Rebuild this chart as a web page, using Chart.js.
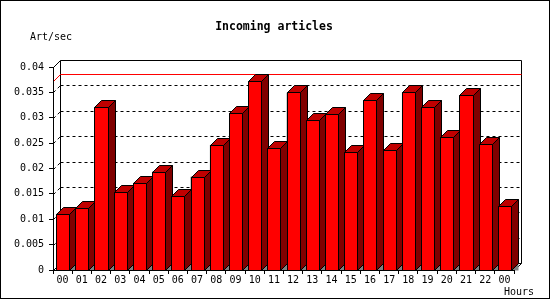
<!DOCTYPE html>
<html>
<head>
<meta charset="utf-8">
<title>Incoming articles</title>
<script src="https://cdn.jsdelivr.net/npm/chart.js@4.4.1/dist/chart.umd.min.js"></script>
<style>
  html, body { margin: 0; padding: 0; background: #fff; }
  canvas { display: block; }
</style>
</head>
<body>
<canvas id="articlesChart" width="550" height="300"></canvas>
<script>
const hours = ['00', '01', '02', '03', '04', '05', '06', '07', '08', '09', '10', '11',
               '12', '13', '14', '15', '16', '17', '18', '19', '20', '21', '22', '00'];
const artPerSec = [0.0111, 0.0123, 0.0321, 0.0153, 0.0172, 0.0194, 0.0145, 0.0184,
                   0.0247, 0.0310, 0.0372, 0.0240, 0.0350, 0.0295, 0.0308, 0.0233,
                   0.0335, 0.0237, 0.0350, 0.0322, 0.0263, 0.0344, 0.0249, 0.0127];
const yTicks = ['0', '0.005', '0.01', '0.015', '0.02', '0.025', '0.03', '0.035', '0.04'];

const DEPTH = 7;
const MONO = '"DejaVu Sans Mono", "Liberation Mono", monospace';

function poly(ctx, pts, fill) {
    ctx.beginPath();
    pts.forEach(([px, py], i) => i ? ctx.lineTo(px, py) : ctx.moveTo(px, py));
    ctx.closePath();
    if (fill) { ctx.fillStyle = fill; ctx.fill(); }
    ctx.stroke();
}

function seg(ctx, x1, y1, x2, y2) {
    ctx.beginPath();
    ctx.moveTo(x1, y1);
    ctx.lineTo(x2, y2);
    ctx.stroke();
}

// back wall, dotted grid and the max line, drawn behind the bars
const frame3d = {
    id: 'frame3d',
    beforeDatasetsDraw(chart) {
        const { ctx, chartArea: a, scales: { y } } = chart;
        const fl = a.left + 0.5, fb = a.bottom + 0.5, ft = Math.round(a.top) + 0.5;
        const bl = fl + DEPTH, br = Math.round(a.right) + 0.5 + DEPTH;
        const bt = ft - DEPTH, bb = fb - DEPTH;
        ctx.save();
        ctx.strokeStyle = '#000';
        ctx.lineWidth = 1;

        // dotted grid on the back wall
        ctx.setLineDash([3, 3]);
        for (let i = 1; i < yTicks.length - 1; i++) {
            const py = Math.round(y.getPixelForValue(i * 0.005)) + 0.5;
            seg(ctx, bl, py - DEPTH, br, py - DEPTH);
            seg(ctx, fl, py, bl, py - DEPTH);
        }
        ctx.setLineDash([]);

        // wall outline
        seg(ctx, fl, ft, bl, bt);
        seg(ctx, bl, bt, br, bt);
        seg(ctx, br, bt, br, bb);
        seg(ctx, bl, bt, bl, bb);
        seg(ctx, bl, bb, br, bb);
        seg(ctx, fl, fb, bl, bb);
        seg(ctx, Math.round(a.right) + 0.5, fb, br, bb);

        // maximum line
        const my = Math.round(y.getPixelForValue(Math.max(...artPerSec))) + 0.5;
        ctx.strokeStyle = '#ff0000';
        seg(ctx, fl, my, bl, my - DEPTH);
        seg(ctx, bl, my - DEPTH, br, my - DEPTH);
        ctx.restore();
    },
    afterDatasetsDraw(chart) {
        const { ctx, chartArea: a } = chart;
        const bars = chart.getDatasetMeta(0).data;
        ctx.save();
        ctx.strokeStyle = '#000';
        ctx.lineWidth = 1;
        bars.forEach(bar => {
            const { x, y, base, width } = bar.getProps(['x', 'y', 'base', 'width'], true);
            const L = Math.round(x - width / 2) + 0.5;
            const R = Math.round(x + width / 2) + 0.5;
            const T = Math.round(y) + 0.5;
            const B = Math.round(base) + 0.5;
            const D = DEPTH;
            poly(ctx, [[L, T], [R, T], [R, B], [L, B]], '#ff0000');
            poly(ctx, [[L, T], [L + D, T - D], [R + D, T - D], [R, T]], '#c00000');
            ctx.beginPath();
            ctx.moveTo(R, B); ctx.lineTo(R + D, B - D); ctx.lineTo(R + D, B); ctx.closePath();
            ctx.fillStyle = '#808080';
            ctx.fill();
            poly(ctx, [[R, T], [R + D, T - D], [R + D, B - D], [R, B]], '#800000');
        });
        seg(ctx, a.left + 0.5, a.top, a.left + 0.5, a.bottom + 1);
        seg(ctx, a.left, a.bottom + 0.5, a.right + 1, a.bottom + 0.5);
        ctx.restore();
    },
    afterDraw(chart) {
        const { ctx } = chart;
        ctx.save();
        ctx.fillStyle = '#000';
        ctx.textBaseline = 'middle';
        ctx.font = 'bold 11.5px ' + MONO;
        ctx.textAlign = 'center';
        ctx.fillText('Incoming articles', 274, 27);
        ctx.font = '10px ' + MONO;
        ctx.textAlign = 'left';
        ctx.fillText('Art/sec', 30, 37);
        ctx.textAlign = 'right';
        ctx.fillText('Hours', 534, 292);
        ctx.strokeStyle = '#000';
        ctx.lineWidth = 1;
        ctx.strokeRect(0.5, 0.5, 549, 298);
        ctx.restore();
    }
};

new Chart(document.getElementById('articlesChart').getContext('2d'), {
    type: 'bar',
    data: {
        labels: hours,
        datasets: [{
            label: 'Art/sec',
            data: artPerSec,
            backgroundColor: '#ff0000',
            borderColor: '#000000',
            borderWidth: 1,
            barPercentage: 0.68,
            categoryPercentage: 1,
        }],
    },
    options: {
        responsive: false,
        animation: false,
        devicePixelRatio: 1,
        layout: {
            padding: { top: 67, right: 36, bottom: 0, left: 0 },
        },
        plugins: {
            legend: { display: false },
            title: { display: false },
            tooltip: { enabled: false },
        },
        scales: {
            x: {
                offset: true,
                afterFit: s => { s.height = 30; },
                grid: { offset: true, drawOnChartArea: false, tickLength: 4, color: '#000' },
                border: { color: '#000' },
                ticks: {
                    autoSkip: false,
                    maxRotation: 0,
                    padding: 0,
                    color: '#000',
                    font: { family: MONO, size: 10 },
                },
            },
            y: {
                min: 0,
                max: 0.04,
                afterFit: s => { s.width = 53; },
                grid: { drawOnChartArea: false, tickLength: 4, color: '#000' },
                border: { color: '#000' },
                ticks: {
                    stepSize: 0.005,
                    padding: 5,
                    color: '#000',
                    font: { family: MONO, size: 10 },
                    callback: (v, i) => yTicks[i] ?? '',
                },
            },
        },
    },
    plugins: [frame3d],
});
</script>
</body>
</html>
